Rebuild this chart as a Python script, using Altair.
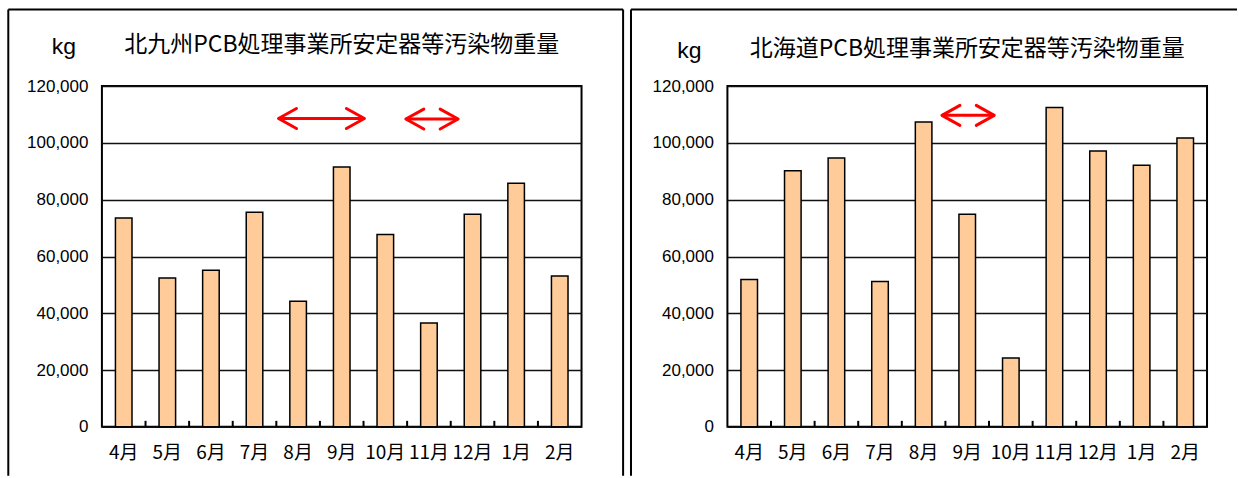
import altair as alt
import pandas as pd

# ---- data -------------------------------------------------------------
months = ["4月", "5月", "6月", "7月", "8月", "9月", "10月", "11月", "12月", "1月", "2月"]
kitakyushu_kg = [73550, 52430, 55140, 75550, 44230, 91500, 67700, 36600, 74850, 85760, 53140]
hokkaido_kg = [51870, 90230, 94660, 51170, 107330, 74850, 24280, 112500, 97130, 92090, 101700]

kitakyushu_title = "北九州PCB処理事業所安定器等汚染物重量"
hokkaido_title = "北海道PCB処理事業所安定器等汚染物重量"
unit_label = "kg"
y_tick_values = [0, 20000, 40000, 60000, 80000, 100000, 120000]

# slot boundaries between months (0 = left edge, 11 = right edge) for the inward ticks
slot_boundaries = [1, 2, 3, 4, 5, 6, 7, 8, 9, 10]

# double-headed arrows: span in month-slot units, height in kg
kitakyushu_arrow_start = [4.05, 6.97]
kitakyushu_arrow_end = [6.02, 8.17]
kitakyushu_arrow_level = [108600, 108400]
hokkaido_arrow_start = [4.92]
hokkaido_arrow_end = [6.12]
hokkaido_arrow_level = [109700]

# ---- styling ----------------------------------------------------------
FONT = "Noto Sans CJK JP"
NUM_FONT = "Liberation Sans"
W, H = 480, 341
BAR_FILL = "#FFCC99"
ARROW_RED = "#FF0000"


def panel(values, title, a_start, a_end, a_level, title_dy, frame_left, frame_right, draw_right_edge):
    df = pd.DataFrame({"month": months, "kg": values})
    arrows = pd.DataFrame({"start": a_start, "end": a_end, "level": a_level})
    bounds = pd.DataFrame({"slot": slot_boundaries})
    heading = pd.DataFrame({"title": [title], "unit": [unit_label]})

    y_scale = alt.Scale(domain=[0, 120000], nice=False, zero=True)
    y_axis = alt.Axis(
        title=None, values=y_tick_values, format=",d", labelFont=NUM_FONT,
        labelFontSize=17, labelColor="#000", labelPadding=14, ticks=False,
        domain=False, grid=True, gridColor="#111", gridWidth=1.5,
    )
    band = alt.Scale(paddingInner=0.62, paddingOuter=0.31)
    slot = alt.Scale(domain=[0, 11], nice=False, zero=False)

    bars = alt.Chart(df).mark_bar(fill=BAR_FILL, stroke="#000", strokeWidth=1.5).encode(
        x=alt.X(
            "month:N", sort=months, scale=band,
            axis=alt.Axis(
                title=None, labelAngle=0, labelFont=FONT, labelFontSize=19,
                labelColor="#000", labelPadding=17, ticks=False, domain=False,
                labelBaseline="top",
            ),
        ),
        y=alt.Y("kg:Q", scale=y_scale, axis=y_axis),
    )

    # small inward ticks on the category axis, at the slot boundaries
    cat_ticks = alt.Chart(bounds).mark_rule(color="#000", strokeWidth=2).encode(
        x=alt.X("slot:Q", scale=slot, axis=None),
        y=alt.value(H - 6),
        y2=alt.value(H),
    )

    shaft = alt.Chart(arrows).mark_rule(color=ARROW_RED, strokeWidth=3).encode(
        x=alt.X("start:Q", scale=slot, axis=None),
        x2="end:Q",
        y=alt.Y("level:Q", scale=y_scale, axis=y_axis),
    )
    head_left = alt.Chart(arrows).mark_point(
        shape="M1.8,-1L0,0L1.8,1", size=400, filled=False, stroke=ARROW_RED,
        strokeWidth=3, opacity=1, strokeJoin="round", strokeCap="round",
    ).encode(
        x=alt.X("start:Q", scale=slot, axis=None),
        y=alt.Y("level:Q", scale=y_scale, axis=y_axis),
    )
    head_right = alt.Chart(arrows).mark_point(
        shape="M-1.8,-1L0,0L-1.8,1", size=400, filled=False, stroke=ARROW_RED,
        strokeWidth=3, opacity=1, strokeJoin="round", strokeCap="round",
    ).encode(
        x=alt.X("end:Q", scale=slot, axis=None),
        y=alt.Y("level:Q", scale=y_scale, axis=y_axis),
    )

    title_text = alt.Chart(heading).mark_text(
        font=FONT, fontSize=23, color="#000", align="center", baseline="middle"
    ).encode(text="title:N", x=alt.value(W / 2), y=alt.value(-41 + title_dy))
    unit_text = alt.Chart(heading).mark_text(
        font=NUM_FONT, fontSize=23, color="#000", align="center", baseline="middle"
    ).encode(text="unit:N", x=alt.value(-38), y=alt.value(-39 + title_dy))

    # outer panel frame (top and side edges)
    frame_top = -76.7
    frame_bottom = 390
    one = pd.DataFrame({"k": [0]})
    frame = [
        alt.Chart(one).mark_rule(color="#000", strokeWidth=2).encode(
            x=alt.value(frame_left), x2=alt.value(frame_right), y=alt.value(frame_top)
        ),
        alt.Chart(one).mark_rule(color="#000", strokeWidth=2).encode(
            x=alt.value(frame_left), y=alt.value(frame_top), y2=alt.value(frame_bottom)
        ),
    ]
    if draw_right_edge:
        frame.append(
            alt.Chart(one).mark_rule(color="#000", strokeWidth=2).encode(
                x=alt.value(frame_right), y=alt.value(frame_top), y2=alt.value(frame_bottom)
            )
        )

    return alt.layer(
        bars, shaft, head_left, head_right, title_text, unit_text, *frame, cat_ticks
    ).resolve_scale(x="independent").properties(width=W, height=H)


left = panel(kitakyushu_kg, kitakyushu_title, kitakyushu_arrow_start, kitakyushu_arrow_end,
             kitakyushu_arrow_level, 0, -93.7, 521.6, True)
right = panel(hokkaido_kg, hokkaido_title, hokkaido_arrow_start, hokkaido_arrow_end,
              hokkaido_arrow_level, 4, -96.5, 510, False)

chart = (
    alt.hconcat(left, right, spacing=3)
    .configure(padding={"left": 6, "top": 7, "right": 0, "bottom": 0}, background="white")
    .configure_view(stroke="#000", strokeWidth=2)
)

chart.save("out.html", embed_options={"renderer": "svg", "actions": False})
